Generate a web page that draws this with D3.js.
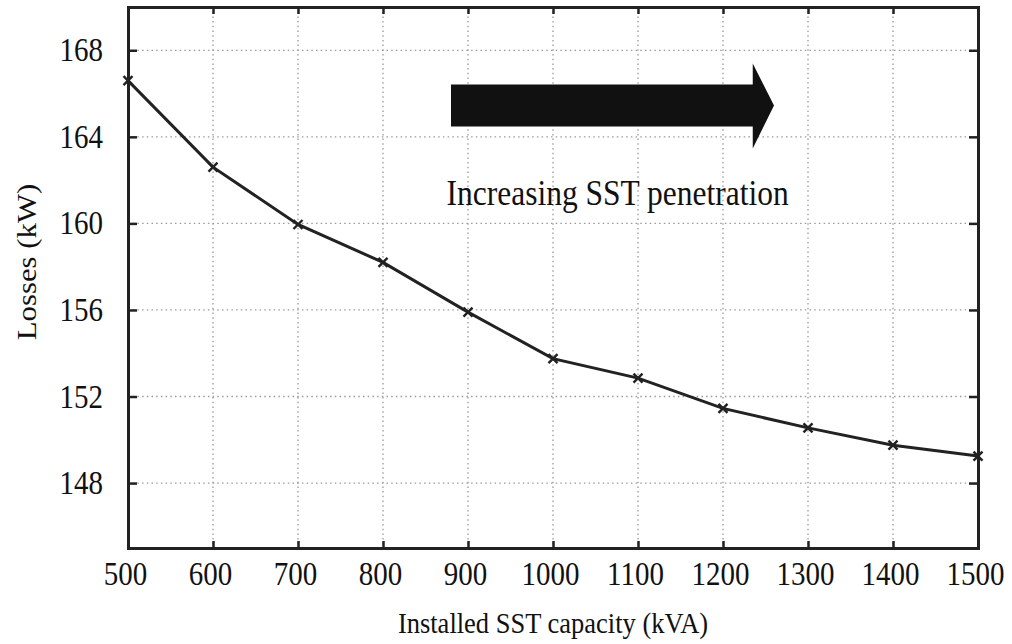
<!DOCTYPE html>
<html>
<head>
<meta charset="utf-8">
<script src="https://cdn.jsdelivr.net/npm/d3@7/dist/d3.min.js"></script>
<style>
  body { margin: 0; background: #fff; }
  svg text { font-family: "Liberation Serif", "Times New Roman", "DejaVu Serif", serif; fill: #111; }
</style>
</head>
<body>
<div class="chart"></div>
<script>
// data
const capacity = [500, 600, 700, 800, 900, 1000, 1100, 1200, 1300, 1400, 1500];
const losses = [166.6, 162.6, 159.95, 158.2, 155.9, 153.75, 152.85, 151.45, 150.55, 149.75, 149.25];
const xTicks = [500, 600, 700, 800, 900, 1000, 1100, 1200, 1300, 1400, 1500];
const yTicks = [148, 152, 156, 160, 164, 168];

const WIDTH = 1012, HEIGHT = 644;
const M = {top: 7, right: 34, bottom: 96, left: 128};
const SERIF = '"Liberation Serif", "Times New Roman", "DejaVu Serif", serif';
const STRETCH = 1.14;   // the original figure looks a bit taller than wide

const svg = d3.select(".chart").append("svg")
  .attr("width", WIDTH)
  .attr("height", HEIGHT)
  .attr("font-family", SERIF);

const xScale = d3.scaleLinear().domain([500, 1500]).range([M.left, WIDTH - M.right]);
const yScale = d3.scaleLinear().domain([145, 170]).range([HEIGHT - M.bottom, M.top]);

// dotted grid
svg.append("g").selectAll("line").data(xTicks.slice(1, -1)).enter()
  .append("line")
  .attr("x1", d => xScale(d)).attr("x2", d => xScale(d))
  .attr("y1", yScale(170)).attr("y2", yScale(145))
  .attr("stroke", "#9a9a9a").attr("stroke-width", 1.3).attr("stroke-dasharray", "1.5,3.2");

svg.append("g").selectAll("line").data(yTicks).enter()
  .append("line")
  .attr("x1", xScale(500)).attr("x2", xScale(1500))
  .attr("y1", d => yScale(d)).attr("y2", d => yScale(d))
  .attr("stroke", "#9a9a9a").attr("stroke-width", 1.3).attr("stroke-dasharray", "1.5,3.2");

// axes (ticks inside)
const fmt = d3.format("d");
const xAxis = svg.append("g")
  .attr("transform", "translate(0," + yScale(145) + ")")
  .call(d3.axisBottom(xScale).tickValues(xTicks).tickSize(-7).tickFormat(fmt));
const xAxisTop = svg.append("g")
  .attr("transform", "translate(0," + yScale(170) + ")")
  .call(d3.axisTop(xScale).tickValues(xTicks).tickSize(-7).tickFormat(""));
const yAxis = svg.append("g")
  .attr("transform", "translate(" + xScale(500) + ",0)")
  .call(d3.axisLeft(yScale).tickValues(yTicks).tickSize(-9).tickFormat(fmt));
const yAxisRight = svg.append("g")
  .attr("transform", "translate(" + xScale(1500) + ",0)")
  .call(d3.axisRight(yScale).tickValues(yTicks).tickSize(-9).tickFormat(""));

[xAxis, xAxisTop, yAxis, yAxisRight].forEach(a => {
  a.attr("font-family", SERIF).attr("font-size", 29);
  a.select(".domain").attr("stroke", "#222").attr("stroke-width", 3);
  a.selectAll(".tick line").attr("stroke", "#222").attr("stroke-width", 2.5);
  a.selectAll(".tick text").attr("fill", "#111");
});
xAxis.selectAll(".tick text")
  .attr("x", 0).attr("y", 0).attr("dy", null)
  .attr("transform", "translate(-3,37) scale(1," + STRETCH + ")");
yAxis.selectAll(".tick text")
  .attr("x", 0).attr("y", 0).attr("dy", null)
  .attr("transform", "translate(-25,10.5) scale(1," + STRETCH + ")");

// the curve
const line = d3.line()
  .x((d, i) => xScale(capacity[i]))
  .y(d => yScale(d));

svg.append("path")
  .datum(losses)
  .attr("d", line)
  .attr("fill", "none")
  .attr("stroke", "#222")
  .attr("stroke-width", 3);

// x markers
const mk = 4.5;
svg.append("g").selectAll("path").data(losses).enter()
  .append("path")
  .attr("d", (d, i) => {
    const cx = xScale(capacity[i]), cy = yScale(d);
    return "M" + (cx - mk) + "," + (cy - mk) + "L" + (cx + mk) + "," + (cy + mk) +
           "M" + (cx - mk) + "," + (cy + mk) + "L" + (cx + mk) + "," + (cy - mk);
  })
  .attr("stroke", "#222")
  .attr("stroke-width", 2.4);

// big arrow
const ax0 = xScale(880), ax1 = xScale(1235), atip = xScale(1260);
const ay = yScale(165.45);
svg.append("path")
  .attr("d", "M" + ax0 + "," + (ay - 21) + "L" + ax1 + "," + (ay - 21) +
             "L" + ax1 + "," + (ay - 42) + "L" + atip + "," + ay +
             "L" + ax1 + "," + (ay + 43) + "L" + ax1 + "," + (ay + 21) +
             "L" + ax0 + "," + (ay + 21) + "Z")
  .attr("fill", "#111");

svg.append("text")
  .text("Increasing SST penetration")
  .attr("transform", "translate(" + xScale(1076) + ",205) scale(1," + STRETCH + ")")
  .attr("text-anchor", "middle")
  .attr("font-size", 31.5);

// axis titles
svg.append("text")
  .text("Installed SST capacity (kVA)")
  .attr("transform", "translate(" + xScale(1000) + ",633) scale(1," + STRETCH + ")")
  .attr("text-anchor", "middle")
  .attr("font-size", 26.5);

svg.append("text")
  .text("Losses (kW)")
  .attr("transform", "translate(36,262) scale(1," + STRETCH + ") rotate(-90)")
  .attr("text-anchor", "middle")
  .attr("font-size", 27);
</script>
</body>
</html>
